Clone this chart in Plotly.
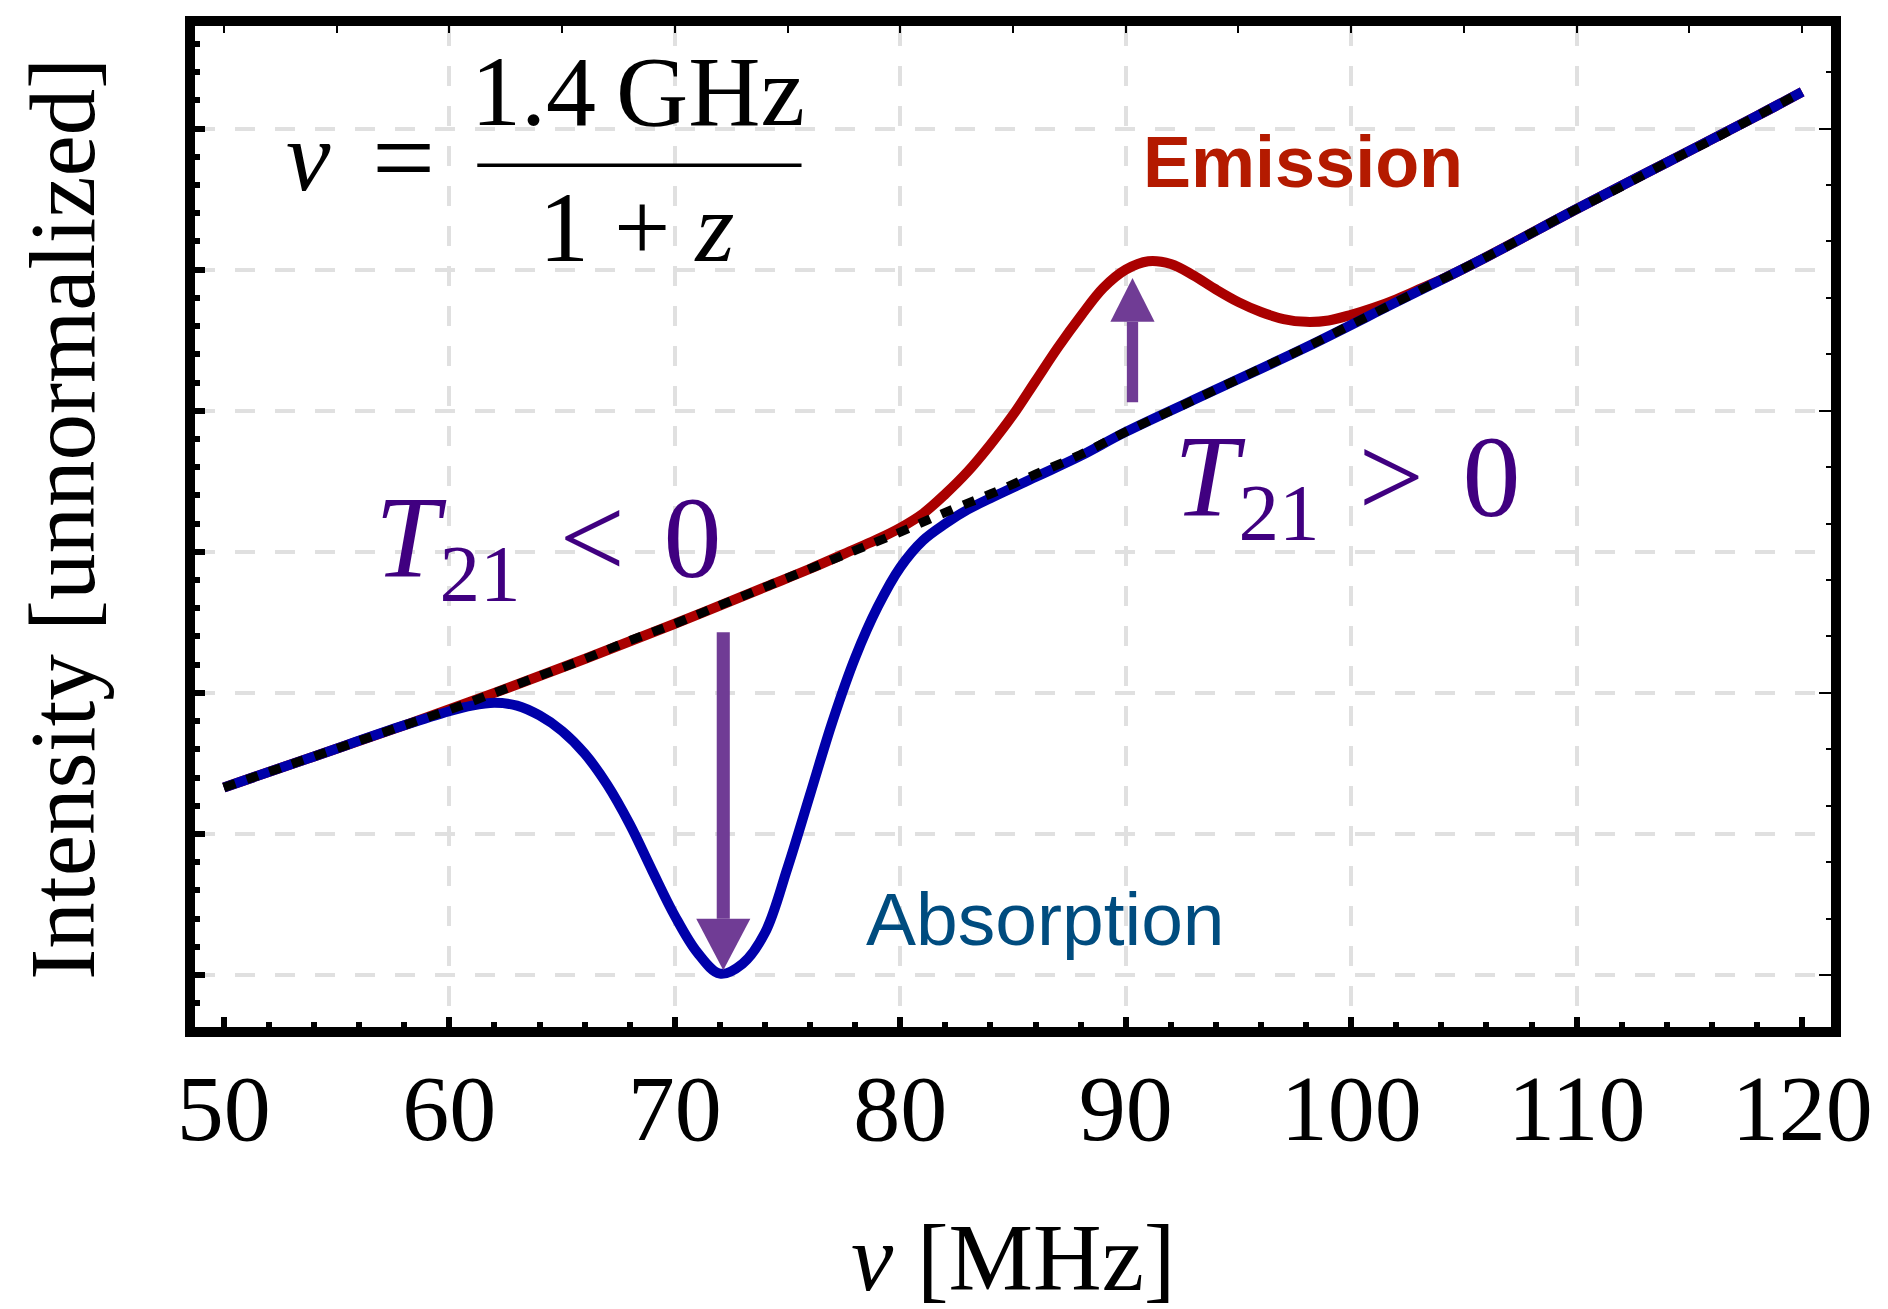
import plotly.graph_objects as go

# ---------------- data ----------------
BASE_X = [50, 52, 54, 56, 58, 60, 62, 64, 66, 68, 70, 72, 74, 76, 78, 80, 82, 84, 86, 88,
          90, 92, 94, 96, 98, 100, 102, 104, 106, 108, 110, 112, 114, 116, 118, 120]
BASE_Y = [1.33, 1.44, 1.55, 1.66, 1.77, 1.88, 2.00, 2.12, 2.24, 2.37, 2.49, 2.62, 2.75, 2.88,
          3.01, 3.14, 3.28, 3.41, 3.55, 3.69, 3.85, 4.00, 4.15, 4.30, 4.45, 4.61, 4.77, 4.93,
          5.09, 5.26, 5.43, 5.59, 5.76, 5.92, 6.09, 6.26]

ABS_X = [50, 54, 58, 60, 61, 62, 63, 64, 65, 66, 67, 68, 69, 70, 71, 72, 73, 74, 75, 76, 77,
         78, 79, 80, 81, 82, 83, 84, 86, 88, 90, 94, 98, 102, 106, 110, 114, 118, 120]
ABS_Y = [1.33, 1.55, 1.77, 1.87, 1.91, 1.93, 1.91, 1.84, 1.73, 1.57, 1.35, 1.07, 0.74, 0.42,
         0.16, 0.01, 0.08, 0.30, 0.76, 1.28, 1.80, 2.25, 2.61, 2.89, 3.08, 3.20, 3.30, 3.38,
         3.53, 3.68, 3.85, 4.15, 4.45, 4.77, 5.09, 5.43, 5.76, 6.09, 6.26]

EMI_X = [50, 54, 58, 62, 66, 70, 74, 76, 78, 79, 80, 81, 82, 83, 84, 85, 86, 87, 88, 89, 90,
         91, 92, 93, 94, 95, 96, 97, 98, 99, 100, 101, 102, 103, 104, 106, 110, 114, 118, 120]
EMI_Y = [1.33, 1.55, 1.77, 2.00, 2.24, 2.49, 2.75, 2.88, 3.02, 3.09, 3.17, 3.27, 3.41, 3.57,
         3.76, 3.97, 4.21, 4.45, 4.67, 4.87, 5.00, 5.06, 5.04, 4.96, 4.86, 4.77, 4.70, 4.65,
         4.63, 4.64, 4.68, 4.73, 4.79, 4.86, 4.93, 5.09, 5.43, 5.76, 6.09, 6.26]

X_TICKS = [50, 60, 70, 80, 90, 100, 110, 120]
X_TICK_LABELS = ["50", "60", "70", "80", "90", "100", "110", "120"]
X_GRID = [60, 70, 80, 90, 100, 110]

# ---------------- styling / layout constants ----------------
X_RANGE = [48.72, 121.28]
Y_RANGE = [-0.368, 6.727]
SERIF = "Liberation Serif"
SANS = "Liberation Sans"
BLUE = "#0000AA"
RED = "#AA0000"
PURPLE_ARROW = "#703C95"
PURPLE_TEXT = "#400080"
GRID_COLOR = "#e0e0e0"
GRID_DASH = "20px,20px"
CURVE_W = 10

fig = go.Figure()

fig.add_trace(go.Scatter(x=EMI_X, y=EMI_Y, mode="lines",
                         line=dict(color=RED, width=CURVE_W, shape="spline"), hoverinfo="skip"))
fig.add_trace(go.Scatter(x=ABS_X, y=ABS_Y, mode="lines",
                         line=dict(color=BLUE, width=CURVE_W, shape="spline"), hoverinfo="skip"))
fig.add_trace(go.Scatter(x=BASE_X, y=BASE_Y, mode="lines",
                         line=dict(color="black", width=CURVE_W - 1, dash="12px,12px", shape="spline"),
                         hoverinfo="skip"))
# invisible carriers for the auxiliary axes (top/right ticks, vertical grid)
fig.add_trace(go.Scatter(x=BASE_X, y=BASE_Y, xaxis="x2", yaxis="y2", mode="lines",
                         line=dict(width=0), opacity=0, hoverinfo="skip"))
fig.add_trace(go.Scatter(x=BASE_X, y=BASE_Y, xaxis="x3", yaxis="y", mode="lines",
                         line=dict(width=0), opacity=0, hoverinfo="skip"))

common_off = dict(showgrid=False, zeroline=False, showline=False, showticklabels=False)

fig.update_layout(
    width=1888, height=1309,
    margin=dict(l=187, r=65, t=8, b=290),
    plot_bgcolor="white", paper_bgcolor="white",
    showlegend=False,
    xaxis=dict(
        range=X_RANGE, tickmode="array", tickvals=X_TICKS, ticktext=X_TICK_LABELS,
        ticks="inside", ticklen=10, tickwidth=5.5, tickcolor="black",
        minor=dict(tickmode="linear", tick0=50, dtick=2, ticks="inside", ticklen=5,
                   tickwidth=5.5, tickcolor="black", showgrid=False),
        showline=True, linewidth=10, linecolor="black", mirror=True,
        showgrid=False, zeroline=False,
        tickfont=dict(family=SERIF, size=94, color="black"),
        ticklabelstandoff=-10,
    ),
    xaxis2=dict(
        range=X_RANGE, overlaying="x", side="top", anchor="y2",
        tickmode="linear", tick0=50, dtick=5, ticks="inside", ticklen=7, tickwidth=1.5,
        tickcolor="black", **common_off,
    ),
    xaxis3=dict(
        range=X_RANGE, overlaying="x", anchor="y", tickmode="array", tickvals=X_GRID,
        ticks="", showticklabels=False, showgrid=True, gridcolor=GRID_COLOR, gridwidth=3.5,
        griddash=GRID_DASH, zeroline=False, showline=False,
    ),
    yaxis=dict(
        range=Y_RANGE, tickmode="linear", tick0=0, dtick=1,
        ticks="inside", ticklen=10, tickwidth=5.5, tickcolor="black",
        minor=dict(tickmode="linear", tick0=0, dtick=0.2, ticks="inside", ticklen=5,
                   tickwidth=5.5, tickcolor="black", showgrid=False),
        showticklabels=False,
        showgrid=True, gridcolor=GRID_COLOR, gridwidth=3.5, griddash=GRID_DASH,
        showline=True, linewidth=10, linecolor="black", mirror=True, zeroline=False,
    ),
    yaxis2=dict(
        range=Y_RANGE, overlaying="y", side="right", anchor="x2",
        tickmode="linear", tick0=0, dtick=2, ticks="inside", ticklen=12, tickwidth=1.5,
        tickcolor="black",
        minor=dict(tickmode="linear", tick0=0, dtick=0.4, ticks="inside", ticklen=5,
                   tickwidth=1.5, tickcolor="black", showgrid=False),
        **common_off,
    ),
)

# ---------------- arrows ----------------
DOWN_ARROW = dict(x=72.15, y_start=2.43, y_head=0.40, y_tip=0.035, shaft_half=0.29, head_half=1.2)
UP_ARROW = dict(x=90.3, y_start=4.06, y_head=4.63, y_tip=4.94, shaft_half=0.25, head_half=0.98)

for a in (DOWN_ARROW, UP_ARROW):
    fig.add_shape(type="rect", xref="x", yref="y",
                  x0=a["x"] - a["shaft_half"], x1=a["x"] + a["shaft_half"],
                  y0=a["y_start"], y1=a["y_head"],
                  fillcolor=PURPLE_ARROW, line=dict(width=0), layer="above")
    fig.add_shape(type="path", xref="x", yref="y",
                  path=f"M {a['x'] - a['head_half']},{a['y_head']} L {a['x'] + a['head_half']},{a['y_head']} "
                       f"L {a['x']},{a['y_tip']} Z",
                  fillcolor=PURPLE_ARROW, line=dict(width=0), layer="above")

# ---------------- formula nu = 1.4 GHz / (1+z) ----------------
FRAC_BAR = dict(x0=61.24, x1=75.62, y=5.74)
fig.add_shape(type="line", xref="x", yref="y", x0=FRAC_BAR["x0"], x1=FRAC_BAR["x1"],
              y0=FRAC_BAR["y"], y1=FRAC_BAR["y"], line=dict(color="black", width=3.5), layer="above")


def label(text, x, y, size, color="black", family=SERIF, xref="x", yref="y", angle=0):
    fig.add_annotation(text=text, x=x, y=y, xref=xref, yref=yref, showarrow=False,
                       xanchor="center", yanchor="middle", textangle=angle,
                       font=dict(family=family, size=size, color=color))


label("<i>ν</i>", 53.75, 5.80, 100)
label("=", 57.95, 5.80, 112)
label("1.4\u2009GHz", 68.35, 6.26, 100)
label("1 + <i>z</i>", 68.3, 5.30, 100)

label("<i>T</i><sub>21</sub>\u2004&lt;\u20040", 64.4, 3.04, 116, color=PURPLE_TEXT)
label("<i>T</i><sub>21</sub>\u2004&gt;\u20040", 99.85, 3.47, 116, color=PURPLE_TEXT)
label("<b>Emission</b>", 97.85, 5.76, 72, color="#B41A00", family=SANS)
label("Absorption", 86.44, 0.40, 75, color="#004C7F", family=SANS)

# axis titles
label("<i>ν</i> [MHz]", 0.5, -0.2304, 95, xref="paper", yref="paper")
label("Intensity [unnormalized]", -0.0812, 0.508, 93, xref="paper", yref="paper", angle=-90)

fig.write_html("out.html")
